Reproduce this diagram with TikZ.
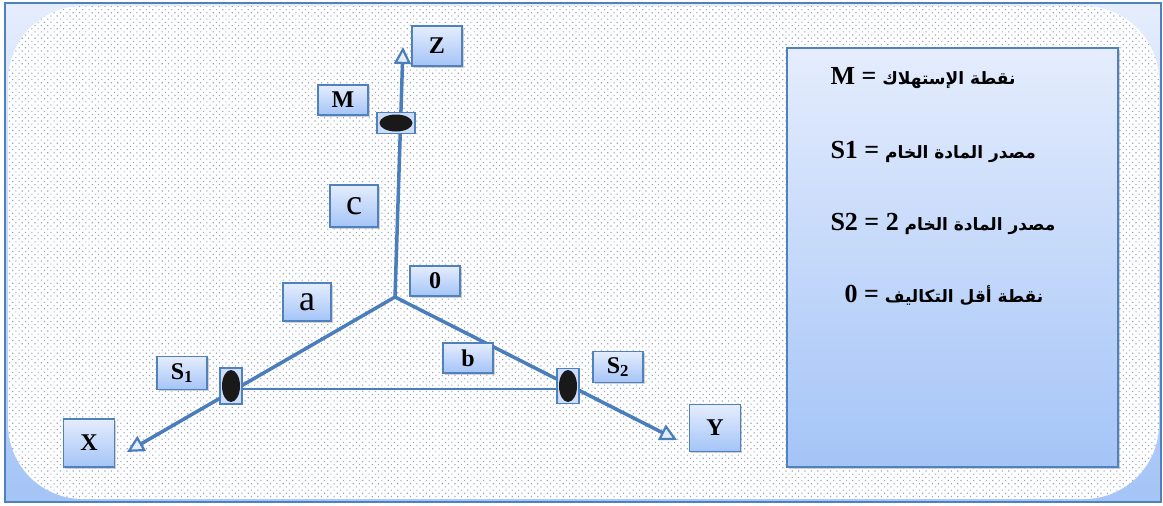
\documentclass[tikz,border=0pt]{standalone}
\usepackage{fontspec}
\setmainfont{Liberation Serif}
\newfontfamily\arabicfont[Script=Arabic]{DejaVu Sans}
\TeXXeTstate=1
\usetikzlibrary{arrows.meta,shadows,patterns.meta}

\definecolor{edgeblue}{RGB}{79,129,189}
\definecolor{lineblue}{RGB}{74,125,187}
\definecolor{paleblue}{RGB}{229,237,253}
\definecolor{midblue}{RGB}{164,196,247}
\definecolor{dotgrey}{RGB}{150,164,194}

\tikzset{
    labelbox/.style={draw=edgeblue, line width=1.6pt, top color=paleblue, bottom color=midblue,
        drop shadow={shadow xshift=1.5pt, shadow yshift=-1.5pt, opacity=0.35},
        inner sep=0pt, font=\fontsize{24}{26}\selectfont\bfseries},
    dotbox/.style={draw=edgeblue, line width=1.4pt, fill=paleblue!60!midblue, inner sep=0pt,
        path picture={\fill[black!90] (path picture bounding box.center) ellipse (#1);}},
    axis/.style={draw=lineblue, line width=3.5pt,
        -{Triangle[length=17pt,width=17pt,fill=paleblue,line width=2.2pt]}},
    legendline/.style={anchor=west, font=\fontsize{26}{28}\selectfont\bfseries}
}

\begin{document}
\begin{tikzpicture}[x=1pt, y=-1pt]%% plan of the location triangle
    \useasboundingbox (0,0) rectangle (1163,506);

    %% frame and dotted sheet
    \shade[top color=paleblue, bottom color=midblue] (5,3) rectangle (1161,502);
    \fill[white, rounded corners=75pt] (8,6) rectangle (1159,499);
    \fill[pattern={Dots[distance=4.5pt,radius=0.8pt,angle=45]}, pattern color=dotgrey,
        rounded corners=75pt] (8,6) rectangle (1159,499);
    \draw[edgeblue, line width=1.5pt] (5,3) rectangle (1161,502);

    %% axes
    \coordinate (o) at (395,297);
    \coordinate (xtip) at (127,452);
    \coordinate (ytip) at (677,440);
    \coordinate (ztip) at (403,47);

        \draw[axis] (o) -- (xtip);
        \draw[axis] (o) -- (ytip);
        \draw[axis] (o) -- (ztip);

    %% points on the axes
    \node[dotbox={16.5pt and 8.5pt}, minimum width=38pt, minimum height=21pt] (m) at (396,123) {};
    \node[dotbox={9pt and 16pt}, minimum width=22pt, minimum height=36pt] (s1) at (231,386) {};
    \node[dotbox={9pt and 16pt}, minimum width=22pt, minimum height=35pt] (s2) at (568,386) {};

        \draw[lineblue, line width=1.8pt] (s1.east |- 0,389) -- (s2.west |- 0,389);

    %% labels
    \node[labelbox, minimum width=50pt, minimum height=40pt] (zlab) at (437,46) {Z};
    \node[labelbox, minimum width=50pt, minimum height=30pt] (mlab) at (343,100) {M};
    \node[labelbox, minimum width=48pt, minimum height=42pt, font=\fontsize{36}{38}\selectfont] (clab) at (354,206) {c};
    \node[labelbox, minimum width=50pt, minimum height=30pt] (olab) at (435,281) {0};
    \node[labelbox, minimum width=48pt, minimum height=38pt, font=\fontsize{36}{38}\selectfont] (alab) at (307,302) {a};
    \node[labelbox, minimum width=50pt, minimum height=30pt] (blab) at (468,358) {b};
    \node[labelbox, minimum width=50pt, minimum height=33pt] (s1lab) at (182,373) {S\textsubscript{1}};
    \node[labelbox, minimum width=50pt, minimum height=31pt] (s2lab) at (618,367) {S\textsubscript{2}};
    \node[labelbox, minimum width=51pt, minimum height=48pt] (xlab) at (89,443) {X};
    \node[labelbox, minimum width=51pt, minimum height=47pt] (ylab) at (715,428) {Y};

    %% legend
    \node[labelbox, minimum width=331pt, minimum height=419pt] (legend) at (952.5,257.5) {};
        \node[legendline] (l1) at (827,78) {\arabicfont\fontsize{17}{20}\selectfont\beginR نقطة الإستهلاك \beginL{\rmfamily\fontsize{26}{28}\selectfont M =}\endL\endR};
        \node[legendline] (l2) at (827,152) {\arabicfont\fontsize{17}{20}\selectfont\beginR مصدر المادة الخام \beginL{\rmfamily\fontsize{26}{28}\selectfont S1 =}\endL\endR};
        \node[legendline] (l3) at (827,224) {\arabicfont\fontsize{17}{20}\selectfont\beginR مصدر المادة الخام \beginL{\rmfamily\fontsize{26}{28}\selectfont S2 = 2}\endL\endR};
        \node[legendline] (l4) at (841,295) {\arabicfont\fontsize{17}{20}\selectfont\beginR نقطة أقل التكاليف \beginL{\rmfamily\fontsize{26}{28}\selectfont 0 =}\endL\endR};

\end{tikzpicture}
\end{document}
